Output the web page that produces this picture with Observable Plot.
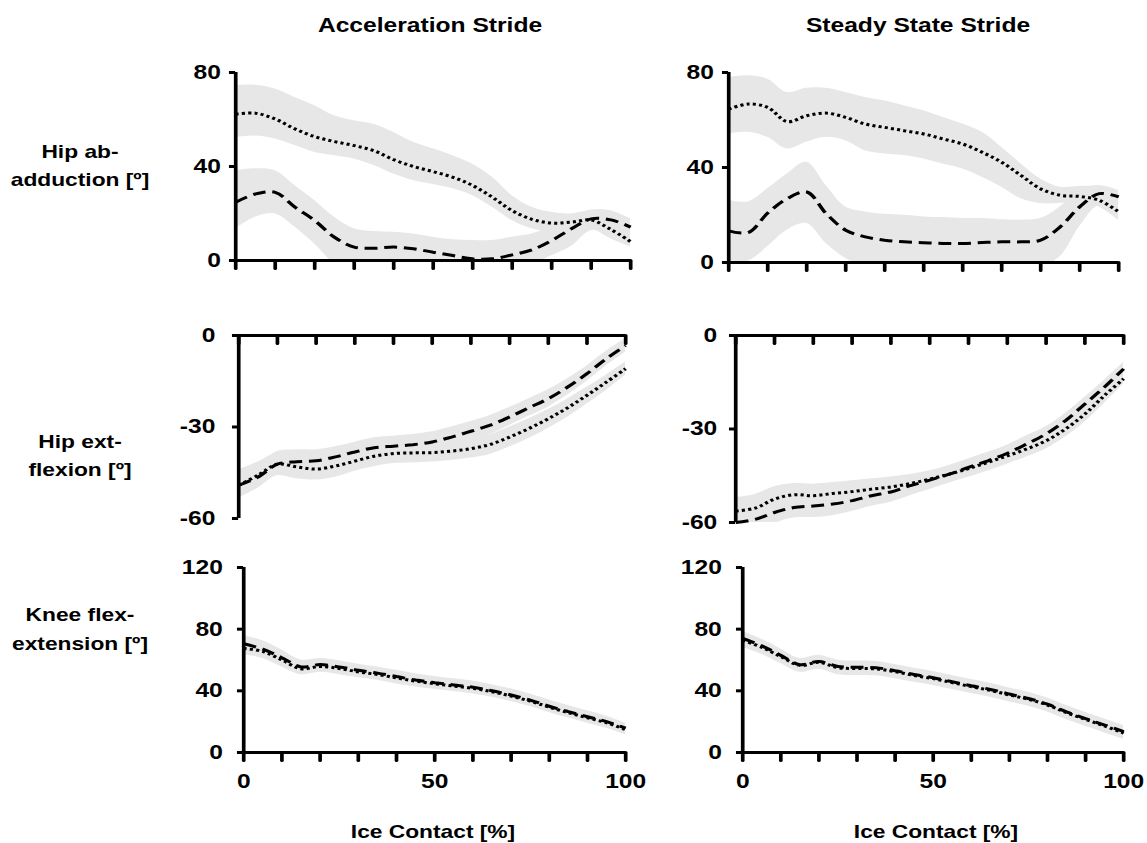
<!DOCTYPE html>
<html><head><meta charset="utf-8">
<script src="https://cdn.jsdelivr.net/npm/d3@7"></script>
<script src="https://cdn.jsdelivr.net/npm/@observablehq/plot@0.6"></script>
<style>
body{margin:0;background:#fff;}
#fig{position:relative;width:1147px;height:843px;overflow:hidden;background:#fff;font-family:"Liberation Sans",Arial,sans-serif;font-weight:bold;color:#000;}
.lbl{position:absolute;white-space:pre;text-align:center;transform:translate(-50%,-50%) scaleX(1.23);}
</style></head><body><div id="fig"></div>
<script>
// ---------- data ----------
const pct = [0,5,10,15,20,25,30,35,40,45,50,55,60,65,70,75,80,85,90,95,100];
const xTicks = [0,10,20,30,40,50,60,70,80,90,100];
const xTickLabels = [0,50,100];
const yTicksAbd = [0,40,80];
const yTicksExt = [-60,-30,0];
const yTicksKnee = [0,40,80,120];
const colTitles = ["Acceleration Stride","Steady State Stride"];
const rowTitles = ["Hip ab-\nadduction [º]","Hip ext-\nflexion [º]","Knee flex-\nextension [º]"];
const xTitle = "Ice Contact [%]";

// Hip ab-adduction, acceleration stride
const abdAccDotMean = [62.3,62.7,60.2,56,52.7,50.6,48.9,46.7,42.9,40,37.8,35.4,31.9,26.9,21.2,17.5,15.9,16.3,17.2,13.2,8];
const abdAccDotHi   = [74.4,74.6,73,69.4,65.9,61.6,59.5,58,54.5,50.3,47.5,44.6,41,35.4,27.6,22.7,20.5,19.8,21,18.4,14.2];
const abdAccDotLo   = [52.4,53,51.7,48.9,46,44.6,43.2,40.4,36.8,34,32.3,30.5,27.6,22.7,17,13.5,12,12.7,13.5,9.2,5.7];
const abdAccDashMean = [24.8,28.3,29,22.7,17,9.9,5.7,5.2,5.7,5,3.5,2.1,0.7,0.7,2.4,4.5,8.5,13.5,17.7,17.3,14.2];
const abdAccDashHi   = [38.2,39,38.2,31.9,25.5,18.4,13.5,12.3,12,11.3,9.9,8.8,8.5,8.5,9.9,11.3,14.2,18.4,21.5,21.2,17.7];
const abdAccDashLo   = [13.5,18.4,19.8,14.2,7,-1,-3,-4,-4,-4,-4,-4,-4,-4,-4,-2,2,6,12.7,12,9.5];
// Hip ab-adduction, steady state stride
const abdSteDotMean = [64.6,66.7,65.3,59.3,61.8,62.9,61.1,58.3,56.9,55.5,54.1,52,49.9,46.4,42.2,36.6,31,28.3,27.8,26.2,21.3];
const abdSteDotHi   = [77.9,78.6,77.2,71.6,73.4,73.4,71.6,69.5,68.1,66,63.9,61.1,58.3,54.8,48.5,41.5,35.2,31.7,32,31.7,27.6];
const abdSteDotLo   = [54.1,54.8,52.7,47.8,50.6,52.7,51.3,47.1,45.7,45,43.6,41.5,39.4,35.9,31.7,26.8,24.8,24.8,25.5,23.4,17.8];
const abdSteDashMean = [13.3,12.6,20.8,26.9,29.7,20.6,13.6,10.8,9.4,8.7,8.3,8,8,8.4,8.7,8.7,9.4,15,23.4,29,27.6];
const abdSteDashHi   = [26.2,25.5,31,37.3,42.2,32.4,23.4,21.3,20.3,19.9,19.2,18.9,18.5,18.5,18,17.8,18.5,23.4,30.3,32.4,30.3];
const abdSteDashLo   = [-0.5,0.5,6.6,13.6,16.4,8,1.7,-2,-3,-3,-3,-3,-3,-3,-3,-3,-2,2.4,15,24,22.5];
// Hip ext-flexion, acceleration stride
const extAccDotMean = [-49.1,-45.8,-42.2,-43.1,-43.8,-42.8,-41.2,-39.6,-38.7,-38.5,-38.4,-37.9,-37.1,-35.7,-33.3,-30.5,-27.3,-23.7,-19.6,-15.3,-10.9];
const extAccDotHi   = [-44,-41.5,-38.5,-39.5,-40,-39.5,-38,-36.5,-35.5,-35.5,-35.5,-35,-34,-32.5,-30,-27.3,-24.3,-20.8,-17,-13,-8.7];
const extAccDotLo   = [-53.4,-50,-46,-47,-47.4,-46.5,-44.5,-43,-42,-41.8,-41.5,-41,-40.2,-39,-36.6,-33.8,-30.5,-26.8,-22.5,-18,-13];
const extAccDashMean = [-49.1,-46.4,-42.2,-41.4,-41.1,-39.8,-38.2,-36.8,-36.3,-35.8,-34.9,-33.3,-31.4,-29.4,-26.7,-23.7,-20.7,-16.9,-12.5,-7.6,-3.3];
const extAccDashHi   = [-44.5,-42.5,-38,-37.5,-37.5,-36.5,-35,-33.5,-33,-32.5,-31.6,-30,-28.2,-26.2,-23.6,-20.7,-17.8,-14.2,-10,-5.2,-1];
const extAccDashLo   = [-53,-50,-45.5,-44.5,-44,-43,-41.5,-40,-39.5,-39,-38,-36.5,-34.5,-32.5,-29.5,-26.5,-23.5,-19.5,-15,-10,-5.5];
// Hip ext-flexion, steady state stride
const extSteDotMean = [-56.3,-55.4,-52.5,-51.1,-51.4,-50.7,-50.1,-49.3,-48.6,-47.5,-46.1,-44.5,-42.7,-40.7,-38.6,-36.4,-33.8,-30,-25.2,-19.3,-13.9];
const extSteDotHi   = [-52,-51,-48.5,-47.5,-47.7,-47.2,-46.6,-46,-45.4,-44.6,-43.5,-42.2,-40.6,-38.8,-36.6,-34.2,-31.3,-27.5,-22.8,-17,-11.5];
const extSteDotLo   = [-59.5,-58.5,-55.5,-54.5,-54.5,-53.8,-53.2,-52.3,-51.5,-50.4,-49,-47.3,-45.5,-43.5,-41.3,-39,-36.4,-32.6,-27.8,-21.8,-15.5];
const extSteDashMean = [-60,-59,-56.8,-55.2,-54.7,-54.1,-53,-51.4,-50.2,-48.2,-46.4,-44.5,-42.3,-40.2,-37.8,-34.8,-31.6,-27.3,-22,-16.6,-10.7];
const extSteDashHi   = [-57,-56,-53.8,-52.2,-51.7,-51.1,-50,-48.4,-47.2,-45.2,-43.5,-41.7,-39.6,-37.5,-35.2,-32.2,-29.3,-25,-19.8,-14.4,-8.6];
const extSteDashLo   = [-63.5,-62.5,-60.3,-58.6,-58.4,-57.8,-56.5,-54.8,-53.5,-51.4,-49.4,-47.3,-45,-42.8,-40.3,-37.3,-34.2,-29.8,-24.5,-19,-13];
// Knee flex-extension, acceleration stride
const kneeAccDotMean = [67.5,65.5,60,54.3,55.8,54.5,52.3,50.6,48.4,46.3,44.6,43.1,41.6,39.4,36.6,33.3,29.4,25.8,22.5,19.3,14.8];
const kneeAccDotHi   = [72,70,64.5,58.5,60,58.5,56.3,54.5,52.3,50,48.3,46.8,45.3,43,40.3,37,33.2,29.6,26.2,22.8,18.5];
const kneeAccDotLo   = [63.5,61,55.5,50.5,52,50.5,48.5,46.8,44.5,42.5,41,39.5,38,35.8,33,29.8,26,22.3,19,15.8,11.5];
const kneeAccDashMean = [70.5,67,61.5,55.5,57,55.5,53.3,51.5,49.3,47,45.3,43.8,42.3,40,37.3,34,30,26.5,23.2,20,15.8];
const kneeAccDashHi   = [75.9,72.5,66.5,60,61,59.5,57.3,55.5,53.3,51,49.3,47.8,46.3,44,41.3,38,34,30.5,27,23.5,19];
const kneeAccDashLo   = [66,62.5,57,51.5,53,51.5,49.5,47.7,45.5,43.3,41.5,40,38.5,36.3,33.5,30.3,26.5,23,19.8,16.8,12.8];
// Knee flex-extension, steady state stride
const kneeSteDotMean = [72.8,68.2,62.2,56.5,58.5,55,54.5,54.2,52.4,50,47.9,45.3,42.7,40.3,37.3,34.5,30.8,25.8,21.5,17.2,12.6];
const kneeSteDotHi   = [77,72.2,66.2,60.5,62.5,59,58.5,58.2,56.4,54,51.9,49.3,46.7,44.3,41.3,38.5,34.8,29.8,25.5,21.2,16.6];
const kneeSteDotLo   = [68.3,63.7,57.7,52,54,50.5,50,49.7,47.9,45.5,43.4,40.8,38.2,35.8,32.8,30,26.3,21.3,17,12.7,8.6];
const kneeSteDashMean = [74,69.2,63,57,59,55.8,55.3,55,53,50.6,48.5,45.9,43.3,40.9,37.9,35,31.3,26.4,22,17.8,13.6];
const kneeSteDashHi   = [78.5,73.5,67.2,61,63,59.8,59.3,59,57,54.6,52.5,49.9,47.3,44.9,41.9,39,35.3,30.4,26,21.8,17.6];
const kneeSteDashLo   = [70,65.2,59,53,55,51.8,51.3,51,49,46.6,44.5,41.9,39.3,36.9,33.9,31,27.3,22.4,18,13.8,9.6];

// ---------- layout & style ----------
const K = 1.23;               // horizontal stretch of the original figure
const FONT = '"Liberation Sans", Arial, sans-serif';
const BAND = "#e7e7e7";
const DOT = "2.5 2.6", DASH = "10.5 5.5";

const panels = [
  {x0:235,x1:630,yTop:72,yBot:260,dom:[0,80],ticks:yTicksAbd,gap:7,bottom:false,
   s:[[abdAccDotMean,abdAccDotLo,abdAccDotHi,DOT],[abdAccDashMean,abdAccDashLo,abdAccDashHi,DASH]]},
  {x0:728,x1:1118,yTop:72,yBot:262,dom:[0,80],ticks:yTicksAbd,gap:7,bottom:false,
   s:[[abdSteDotMean,abdSteDotLo,abdSteDotHi,DOT],[abdSteDashMean,abdSteDashLo,abdSteDashHi,DASH]]},
  {x0:238,x1:625,yTop:335,yBot:518,dom:[-60,0],ticks:yTicksExt,gap:14,bottom:false,
   s:[[extAccDotMean,extAccDotLo,extAccDotHi,DOT],[extAccDashMean,extAccDashLo,extAccDashHi,DASH]]},
  {x0:735,x1:1123,yTop:335,yBot:522,dom:[-60,0],ticks:yTicksExt,gap:10,bottom:false,
   s:[[extSteDotMean,extSteDotLo,extSteDotHi,DOT],[extSteDashMean,extSteDashLo,extSteDashHi,DASH]]},
  {x0:243,x1:625,yTop:567,yBot:752,dom:[0,120],ticks:yTicksKnee,gap:12,bottom:true,
   s:[[kneeAccDotMean,kneeAccDotLo,kneeAccDotHi,DOT],[kneeAccDashMean,kneeAccDashLo,kneeAccDashHi,DASH]]},
  {x0:742,x1:1123,yTop:567,yBot:752,dom:[0,120],ticks:yTicksKnee,gap:12,bottom:true,
   s:[[kneeSteDotMean,kneeSteDotLo,kneeSteDotHi,DOT],[kneeSteDashMean,kneeSteDashLo,kneeSteDashHi,DASH]]}
];

const fig = document.getElementById("fig");
const tickShape = {draw(ctx, l) { ctx.moveTo(0, 0); ctx.lineTo(0, -l); }};
const fmt = d => String(d);

for (const p of panels) {
  const mL = 70, mR = 12, mT = 15, mB = p.bottom ? 50 : 15;
  const tables = p.s.map(([m, lo, hi, dash]) => ({
    dash, rows: pct.map((x, i) => ({x, m: m[i], lo: lo[i], hi: hi[i]}))
  }));
  const marks = [];
  for (const t of tables)
    marks.push(Plot.areaY(t.rows, {x: "x", y1: "lo", y2: "hi", fill: BAND, curve: "catmull-rom", clip: true}));
  for (const t of tables)
    marks.push(Plot.line(t.rows, {x: "x", y: "m", stroke: "#000", strokeWidth: 3, strokeLinecap: "butt", strokeLinejoin: "miter", strokeDasharray: t.dash, curve: "catmull-rom"}));
  marks.push(Plot.ruleX([0], {stroke: "#000", strokeWidth: 3}));
  marks.push(Plot.ruleY([0], {stroke: "#000", strokeWidth: 3}));
  marks.push(Plot.vector(xTicks, {x: d => d, y: 0, length: 8, rotate: 180, anchor: "start", shape: tickShape, stroke: "#000", strokeWidth: 3}));
  marks.push(Plot.axisY(p.ticks, {tickSize: 5, tickPadding: p.gap, tickFormat: fmt, label: null, strokeWidth: 3, fontSize: 20, fontWeight: "bold", fontFamily: FONT, fill: "#000"}));
  if (p.bottom)
    marks.push(Plot.axisX(xTickLabels, {tickSize: 0, tickPadding: 21, tickFormat: fmt, label: null, fontSize: 20, fontWeight: "bold", fontFamily: FONT, fill: "#000"}));
  const svg = Plot.plot({
    width: mL + (p.x1 - p.x0) / K + mR,
    height: mT + (p.yBot - p.yTop) + mB,
    marginLeft: mL, marginRight: mR, marginTop: mT, marginBottom: mB,
    x: {domain: [0, 100], axis: null, label: null},
    y: {domain: p.dom, axis: null, label: null},
    style: {background: "transparent", overflow: "visible", fontFamily: FONT, fontWeight: "bold", color: "#000"},
    marks
  });
  svg.style.position = "absolute";
  svg.style.left = (p.x0 - mL * K) + "px";
  svg.style.top = (p.yTop - mT) + "px";
  svg.style.transformOrigin = "0 0";
  svg.style.transform = `scaleX(${K})`;
  fig.appendChild(svg);
}

function label(text, cx, cy, size, lh) {
  const d = document.createElement("div");
  d.className = "lbl";
  d.textContent = text;
  d.style.left = cx + "px";
  d.style.top = cy + "px";
  d.style.fontSize = size + "px";
  d.style.lineHeight = (lh || size * 1.2) + "px";
  fig.appendChild(d);
}
label(colTitles[0], 430, 25, 20);
label(colTitles[1], 918, 25, 20);
label(rowTitles[0], 80, 166, 18.5, 28);
label(rowTitles[1], 80, 456, 18.5, 28);
label(rowTitles[2], 80, 629, 18.5, 29);
label(xTitle, 433, 832, 18.5);
label(xTitle, 936, 832, 18.5);
</script></body></html>
